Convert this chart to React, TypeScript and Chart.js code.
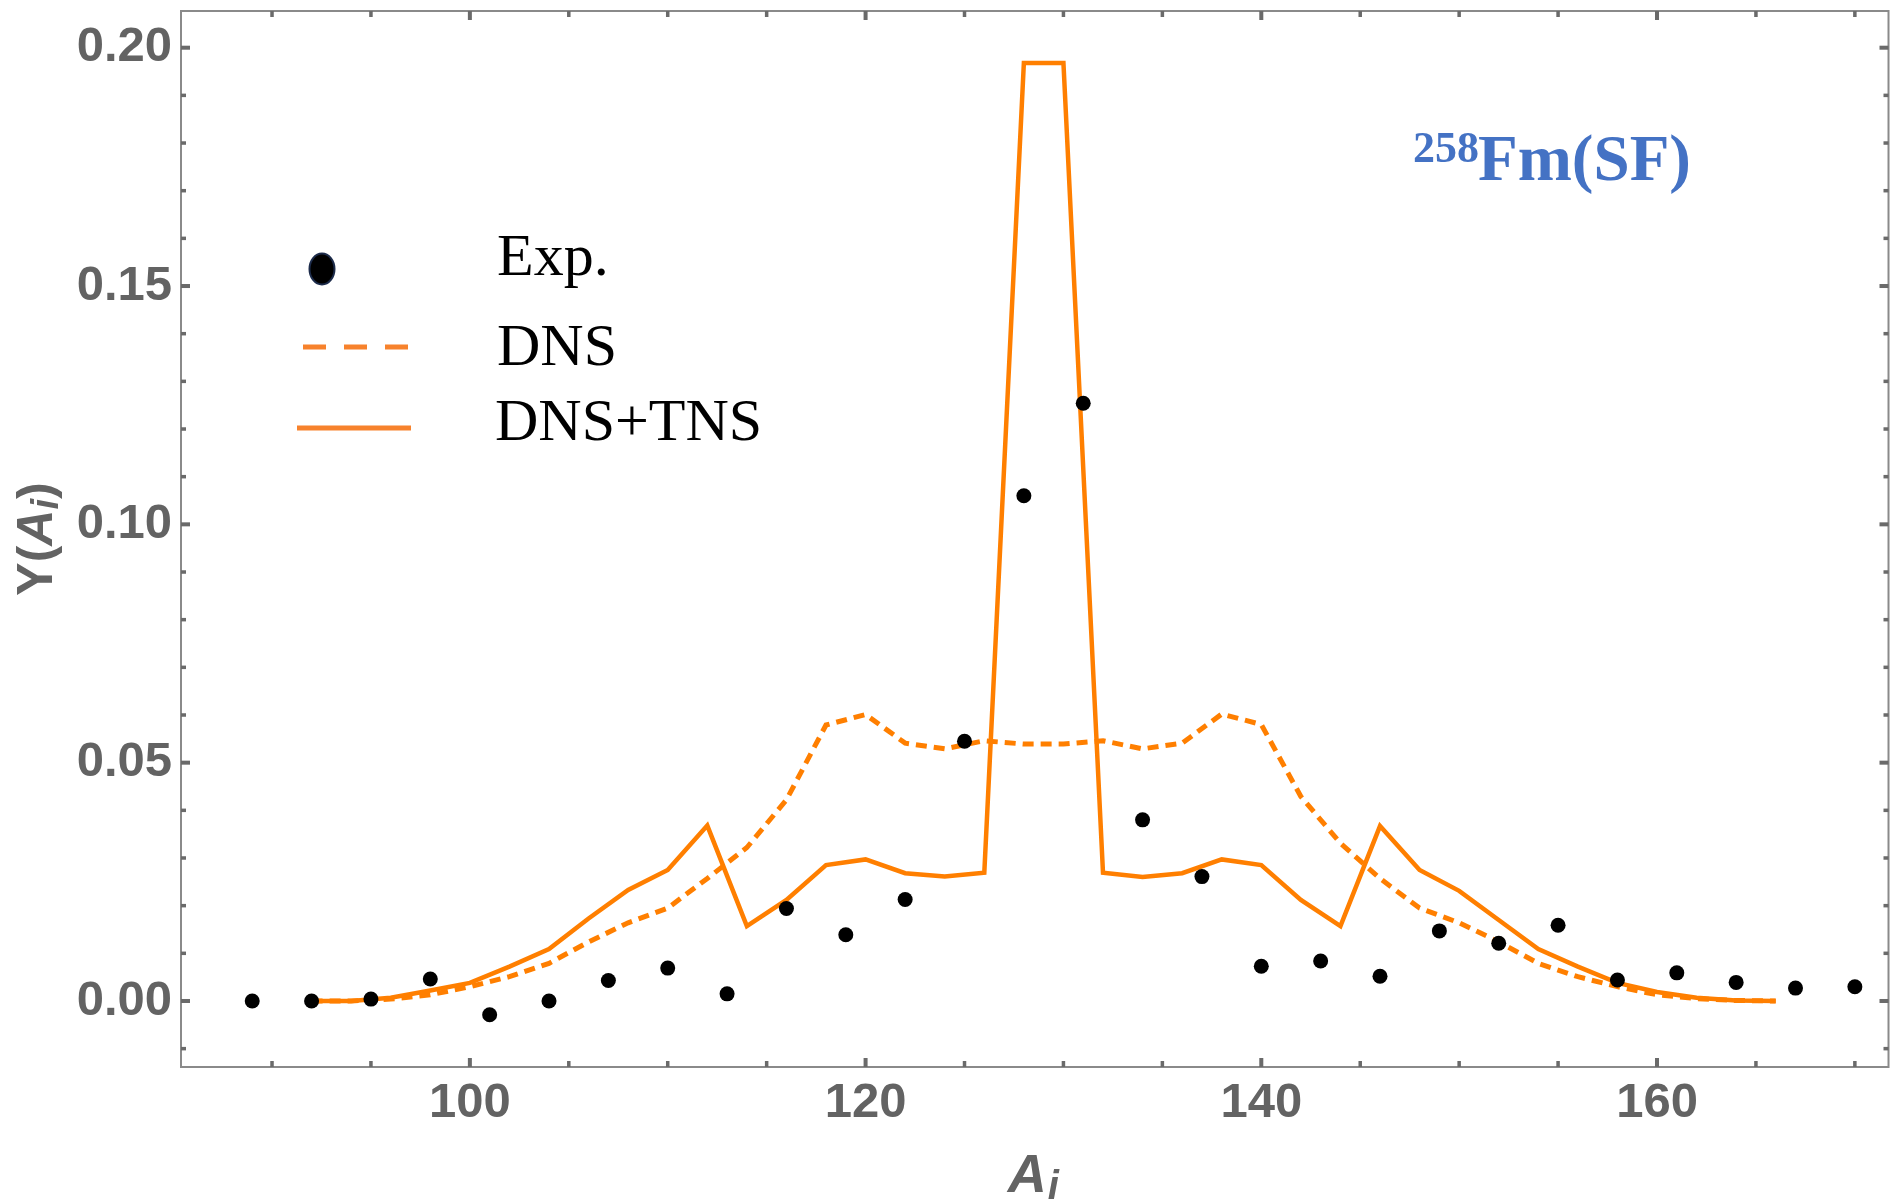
import React, { useEffect, useRef } from "react";
import { Chart, registerables } from "chart.js";

Chart.register(...registerables);

// ---- data ----
const expA = [89, 92, 95, 98, 101, 104, 107, 110, 113, 116, 119, 122, 125, 128, 131, 134, 137, 140, 143, 146, 149, 152, 155, 158, 161, 164, 167, 170];
const expY = [0.0, 0.0, 0.0004, 0.0046, -0.0029, 0.0, 0.0043, 0.0069, 0.0015, 0.0194, 0.0139, 0.0213, 0.0545, 0.106, 0.1254, 0.038, 0.0261, 0.0073, 0.0084, 0.0052, 0.0147, 0.0121, 0.0159, 0.0044, 0.0059, 0.0039, 0.0027, 0.003];

const calcA = [92, 94, 96, 98, 100, 102, 104, 106, 108, 110, 112, 114, 116, 118, 120, 122, 124, 126, 128, 130, 132, 134, 136, 138, 140, 142, 144, 146, 148, 150, 152, 154, 156, 158, 160, 162, 164, 166];
const dnsY = [0, 0, 0.0004, 0.0013, 0.003, 0.0051, 0.0079, 0.0124, 0.0164, 0.0195, 0.0257, 0.0322, 0.0422, 0.0579, 0.0601, 0.0541, 0.0529, 0.0546, 0.0539, 0.0539, 0.0546, 0.0529, 0.0541, 0.0602, 0.058, 0.0429, 0.0331, 0.0257, 0.0195, 0.0164, 0.0124, 0.0079, 0.0051, 0.003, 0.0013, 0.0005, 0.0001, 0];
const tnsY = [0, 0, 0.0007, 0.0022, 0.0038, 0.0072, 0.0109, 0.0173, 0.0233, 0.0275, 0.0368, 0.0157, 0.0212, 0.0285, 0.0297, 0.0268, 0.0261, 0.0269, 0.1968, 0.1968, 0.0269, 0.026, 0.0268, 0.0297, 0.0285, 0.0212, 0.0157, 0.0367, 0.0275, 0.0231, 0.017, 0.0109, 0.0072, 0.0038, 0.0019, 0.0007, 0.0001, 0];

const xTickLabels = [100, 120, 140, 160];
const yTickLabels = [0, 0.05, 0.1, 0.15, 0.2];
const xMinorTicks = [90, 95, 100, 105, 110, 115, 120, 125, 130, 135, 140, 145, 150, 155, 160, 165, 170];
const yMinorTicks = [-0.01, 0, 0.01, 0.02, 0.03, 0.04, 0.05, 0.06, 0.07, 0.08, 0.09, 0.1, 0.11, 0.12, 0.13, 0.14, 0.15, 0.16, 0.17, 0.18, 0.19, 0.2];

const legendLabels = ["Exp.", "DNS", "DNS+TNS"];

const ORANGE = "#ff7f00";
const LEG_ORANGE = "#f7822c";
const AXIS_GRAY = "#636363";
const SANS = '"Liberation Sans", Arial, sans-serif';
const SERIF = '"Liberation Serif", "Times New Roman", serif';

const decorPlugin = {
  id: "decor",
  afterDraw(chart: any) {
    const ctx = chart.ctx as CanvasRenderingContext2D;
    const { left, right, top, bottom } = chart.chartArea;
    const xs = chart.scales.x;
    const ys = chart.scales.y;
    ctx.save();
    // frame
    ctx.strokeStyle = "#8a8a8a";
    ctx.lineWidth = 2;
    ctx.strokeRect(left, top, right - left, bottom - top);

    // ticks
    ctx.fillStyle = "#6a6a6a";
    xMinorTicks.forEach((v) => {
      const px = xs.getPixelForValue(v);
      const major = xTickLabels.includes(v);
      const len = major ? 9 : 6;
      const w = major ? 4 : 3.5;
      ctx.fillRect(px - w / 2, bottom - len, w, len);
      ctx.fillRect(px - w / 2, top, w, len);
    });
    yMinorTicks.forEach((v) => {
      const py = ys.getPixelForValue(v);
      const major = yTickLabels.some((t) => Math.abs(t - v) < 1e-9);
      const len = major ? 9 : 5;
      const h = major ? 4 : 3.5;
      ctx.fillRect(left, py - h / 2, len, h);
      ctx.fillRect(right - len, py - h / 2, len, h);
    });

    // x axis title A_i
    ctx.fillStyle = AXIS_GRAY;
    ctx.textBaseline = "alphabetic";
    ctx.textAlign = "left";
    ctx.font = `italic bold 54px ${SANS}`;
    const aW = ctx.measureText("A").width;
    ctx.font = `italic bold 40px ${SANS}`;
    const iW = ctx.measureText("i").width;
    let sx = (left + right) / 2 - (aW + iW) / 2 - 2;
    ctx.font = `italic bold 54px ${SANS}`;
    ctx.fillText("A", sx, 1192);
    ctx.font = `italic bold 40px ${SANS}`;
    ctx.fillText("i", sx + aW + 1, 1199);

    // y axis title Y(A_i)
    ctx.save();
    ctx.translate(52, (top + bottom) / 2);
    ctx.rotate(-Math.PI / 2);
    const pieces = [
      { t: "Y(", f: `bold 50px ${SANS}`, dy: 0 },
      { t: "A", f: `italic bold 50px ${SANS}`, dy: 0 },
      { t: "i", f: `italic bold 38px ${SANS}`, dy: 6 },
      { t: ")", f: `bold 50px ${SANS}`, dy: 0 },
    ];
    let total = 0;
    pieces.forEach((p) => {
      ctx.font = p.f;
      total += ctx.measureText(p.t).width;
    });
    let px = -total / 2;
    pieces.forEach((p) => {
      ctx.font = p.f;
      ctx.fillText(p.t, px, p.dy);
      px += ctx.measureText(p.t).width;
    });
    ctx.restore();

    // legend
    ctx.beginPath();
    ctx.ellipse(322, 269, 12.5, 15.5, 0, 0, Math.PI * 2);
    ctx.fillStyle = "#000000";
    ctx.fill();
    ctx.lineWidth = 2;
    ctx.strokeStyle = "#1c2b4a";
    ctx.stroke();

    ctx.strokeStyle = LEG_ORANGE;
    ctx.lineWidth = 5;
    ctx.setLineDash([23, 18]);
    ctx.beginPath();
    ctx.moveTo(303, 347);
    ctx.lineTo(409, 347);
    ctx.stroke();
    ctx.setLineDash([]);
    ctx.beginPath();
    ctx.moveTo(297, 428);
    ctx.lineTo(411, 428);
    ctx.stroke();

    ctx.fillStyle = "#000000";
    ctx.font = `60px ${SERIF}`;
    ctx.fillText(legendLabels[0], 497, 275);
    ctx.fillText(legendLabels[1], 497, 365);
    ctx.fillText(legendLabels[2], 495, 440);

    // annotation
    ctx.fillStyle = "#4472c4";
    ctx.font = `bold 44px ${SERIF}`;
    ctx.fillText("258", 1413, 162);
    ctx.font = `bold 65px ${SERIF}`;
    ctx.fillText("Fm(SF)", 1478, 180);

    ctx.restore();
  },
};

export default function App() {
  const ref = useRef<HTMLCanvasElement | null>(null);
  useEffect(() => {
    if (!ref.current) return;
    const chart = new Chart(ref.current, {
      type: "scatter",
      data: {
        datasets: [
          {
            label: legendLabels[0],
            data: expA.map((a, i) => ({ x: a, y: expY[i] })),
            backgroundColor: "#000000",
            borderColor: "#000000",
            pointRadius: 7.5,
            pointBorderWidth: 0,
            showLine: false,
            order: 0,
          } as any,
          {
            type: "line",
            label: legendLabels[1],
            data: calcA.map((a, i) => ({ x: a, y: dnsY[i] })),
            borderColor: ORANGE,
            borderWidth: 5,
            borderDash: [11, 7],
            pointRadius: 0,
            fill: false,
            tension: 0,
            order: 2,
          } as any,
          {
            type: "line",
            label: legendLabels[2],
            data: calcA.map((a, i) => ({ x: a, y: tnsY[i] })),
            borderColor: ORANGE,
            borderWidth: 4.5,
            pointRadius: 0,
            fill: false,
            tension: 0,
            borderJoinStyle: "miter",
            order: 1,
          } as any,
        ],
      },
      options: {
        animation: false,
        responsive: false,
        devicePixelRatio: 1,
        layout: { padding: { top: 11, right: 5, left: 0, bottom: 0 } },
        plugins: { legend: { display: false }, tooltip: { enabled: false } },
        scales: {
          x: {
            type: "linear",
            position: "bottom",
            min: 85.4,
            max: 171.7,
            grid: { display: false, drawTicks: false },
            border: { display: false },
            ticks: {
              color: AXIS_GRAY,
              font: { family: SANS, size: 49, weight: "bold" },
              padding: 7,
              maxRotation: 0,
              autoSkip: false,
              callback: (v: any) => String(v),
            },
            afterBuildTicks: (s: any) => {
              s.ticks = xTickLabels.map((v) => ({ value: v }));
            },
            afterFit: (s: any) => {
              s.height = 136;
              s.paddingLeft = 0;
              s.paddingRight = 0;
              s.paddingTop = 0;
              s.paddingBottom = 0;
            },
          },
          y: {
            type: "linear",
            min: -0.01385,
            max: 0.2077,
            grid: { display: false, drawTicks: false },
            border: { display: false },
            ticks: {
              color: AXIS_GRAY,
              font: { family: SANS, size: 49, weight: "bold" },
              padding: 9,
              autoSkip: false,
              callback: (v: any) => Number(v).toFixed(2),
            },
            afterBuildTicks: (s: any) => {
              s.ticks = yTickLabels.map((v) => ({ value: v }));
            },
            afterFit: (s: any) => {
              s.width = 181;
              s.paddingLeft = 0;
              s.paddingRight = 0;
              s.paddingTop = 0;
              s.paddingBottom = 0;
            },
          },
        },
      } as any,
      plugins: [decorPlugin],
    });
    return () => chart.destroy();
  }, []);
  return (
    <div style={{ position: "absolute", left: 0, top: 0, width: 1896, height: 1203, background: "#fff" }}>
      <canvas ref={ref} width={1896} height={1203} style={{ display: "block", width: 1896, height: 1203 }} />
    </div>
  );
}
